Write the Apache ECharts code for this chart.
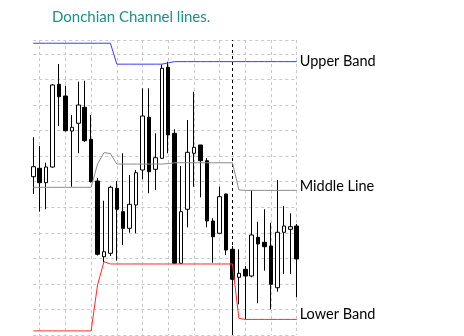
<!DOCTYPE html>
<html>
<head>
<meta charset="utf-8">
<script src="https://cdn.jsdelivr.net/npm/echarts@6/dist/echarts.min.js"></script>
<style>
  html, body { margin: 0; padding: 0; background: #fff; }
  #chart { width: 464px; height: 336px; }
</style>
</head>
<body>
<div id="chart"></div>
<script>
// Bar labels (one per candle)
const categories = ['1','2','3','4','5','6','7','8','9','10','11','12','13','14',
  '15','16','17','18','19','20','21','22','23','24','25','26','27','28',
  '29','30','31','32','33','34','35','36','37','38','39','40','41','42'];

// Candle prices
const openPrices = [61.96, 65.24, 59.61, 65.75, 98.12, 93.54, 79.84, 82.86, 89.12, 76.60,
  60.27, 30.65, 31.98, 57.42, 48.26, 41.76, 50.88, 64.58, 85.21, 64.85,
  69.16, 104.77, 78.94, 28.06, 49.20, 71.12, 74.36, 68.22, 44.62, 39.80,
  55.19, 33.54, 22.58, 25.71, 23.09, 38.24, 36.28, 34.83, 18.51, 40.20,
  41.37, 42.66];
const closePrices = [65.87, 59.61, 65.75, 97.85, 93.27, 79.96, 81.29, 90.02, 76.05, 60.00,
  31.59, 32.60, 57.81, 49.20, 41.76, 51.15, 63.52, 85.71, 63.91, 69.39,
  104.38, 78.28, 28.06, 48.26, 71.51, 73.46, 68.22, 44.62, 38.47, 54.13,
  33.27, 21.80, 24.15, 23.09, 39.14, 35.62, 34.56, 19.84, 40.20, 42.66,
  42.39, 29.75];
const lowPrices = [55.19, 48.26, 49.20, 65.50, 81.80, 79.65, 58.04, 71.12, 75.54, 59.69,
  31.12, 28.57, 30.92, 29.08, 35.23, 40.04, 39.80, 60.94, 55.46, 56.75,
  69.00, 71.12, 27.79, 27.90, 42.15, 58.04, 53.89, 42.15, 28.30, 39.70,
  31.31, 0.50, 12.02, 6.14, 22.58, 12.41, 25.17, 10.06, 16.95, 23.87,
  23.87, 14.76];
const highPrices = [77.38, 73.97, 67.44, 98.24, 106.07, 97.57, 86.11, 99.14, 99.53, 86.11,
  61.45, 52.56, 58.43, 60.27, 71.12, 62.62, 64.58, 96.56, 96.56, 78.94,
  105.87, 106.97, 80.51, 66.14, 84.15, 95.23, 74.40, 69.16, 45.68, 58.04,
  55.30, 34.83, 33.54, 27.01, 56.75, 44.34, 49.20, 43.95, 60.67, 50.49,
  47.63, 43.44];

// Donchian channel lines
const upperBand = [114.2, 114.2, 114.2, 114.2, 114.2, 114.2, 114.2, 114.2, 114.2, 114.2,
  114.2, 114.2, 114.2, 106.0, 106.0, 106.0, 106.0, 106.0, 106.0, 106.0,
  106.0, 106.5, 107.0, 107.0, 107.0, 107.0, 107.0, 107.0, 107.0, 107.0,
  107.0, 107.0, 107.0, 107.0, 107.0, 107.0, 107.0, 107.0, 107.0, 107.0,
  107.0, 107.0];
const middleLine = [57.8, 57.8, 57.8, 57.8, 57.8, 57.8, 57.8, 57.8, 57.8, 57.8,
  66.9, 71.4, 71.0, 66.9, 66.9, 66.9, 66.9, 66.9, 66.9, 66.9,
  66.9, 67.1, 67.4, 67.4, 67.4, 67.4, 67.4, 67.4, 67.4, 67.4,
  67.4, 67.4, 56.8, 56.6, 56.6, 56.6, 56.6, 56.6, 56.6, 56.6,
  56.6, 56.6];
const lowerBand = [1.6, 1.6, 1.6, 1.6, 1.6, 1.6, 1.6, 1.6, 1.6, 1.6,
  19.6, 28.7, 27.8, 27.8, 27.8, 27.8, 27.8, 27.8, 27.8, 27.8,
  27.8, 27.8, 27.8, 27.8, 27.8, 27.8, 27.8, 27.8, 27.8, 27.8,
  27.8, 27.8, 6.5, 6.1, 6.1, 6.1, 6.1, 6.1, 6.1, 6.1,
  6.1, 6.1];

// Bar where the dashed separator is drawn
const separatorIndex = 31;

const FONT = 'Lato';

const candleData = categories.map((_, i) =>
  [openPrices[i], closePrices[i], lowPrices[i], highPrices[i]]);

function bandSeries(name, data, color, labelOffset) {
  return {
    name: name,
    type: 'line',
    data: data,
    symbol: 'none',
    z: 5,
    lineStyle: { color: color, width: 1 },
    endLabel: {
      show: true,
      formatter: '{a}',
      color: '#000',
      fontFamily: FONT,
      fontSize: 14.5,
      distance: 3,
      offset: labelOffset
    },
    emphasis: { disabled: true }
  };
}

const chart = echarts.init(document.getElementById('chart'), null, { renderer: 'canvas' });
chart.setOption({
  animation: false,
  backgroundColor: '#fff',
  title: {
    text: 'Donchian Channel lines.',
    left: 47,
    top: 5,
    textStyle: { color: '#1f8e8c', fontFamily: FONT, fontSize: 15, fontWeight: 'normal' }
  },
  grid: { left: 33.3, top: 40, width: 263.4, height: 295, containLabel: false },
  xAxis: {
    type: 'category',
    data: categories,
    boundaryGap: false,
    axisLine: { show: false },
    axisTick: { show: false },
    axisLabel: { show: false },
    splitLine: {
      show: true,
      interval: (index) => index % 4 === 1,
      lineStyle: { color: '#c8c8c8', type: [3, 3], width: 1 }
    }
  },
  yAxis: {
    type: 'value',
    min: 0,
    max: 115.46,
    interval: 10,
    axisLine: { show: false },
    axisTick: { show: false },
    axisLabel: { show: false },
    splitLine: { show: true, lineStyle: { color: '#c8c8c8', type: [3, 3], width: 1 } }
  },
  series: [
    {
      name: 'Price',
      type: 'candlestick',
      data: candleData,
      barWidth: 4,
      itemStyle: {
        color: '#ffffff',
        color0: '#000000',
        borderColor: '#000000',
        borderColor0: '#000000',
        borderWidth: 1
      },
      markLine: {
        silent: true,
        symbol: 'none',
        label: { show: false },
        lineStyle: { color: '#000', type: [3, 3], width: 1 },
        data: [{ xAxis: separatorIndex }]
      }
    },
    bandSeries('Upper Band', upperBand, '#3b3bff', [0, 0]),
    bandSeries('Middle Line', middleLine, '#8c8c8c', [0, -4]),
    bandSeries('Lower Band', lowerBand, '#ff2a2a', [0, -5])
  ]
});
</script>
</body>
</html>
